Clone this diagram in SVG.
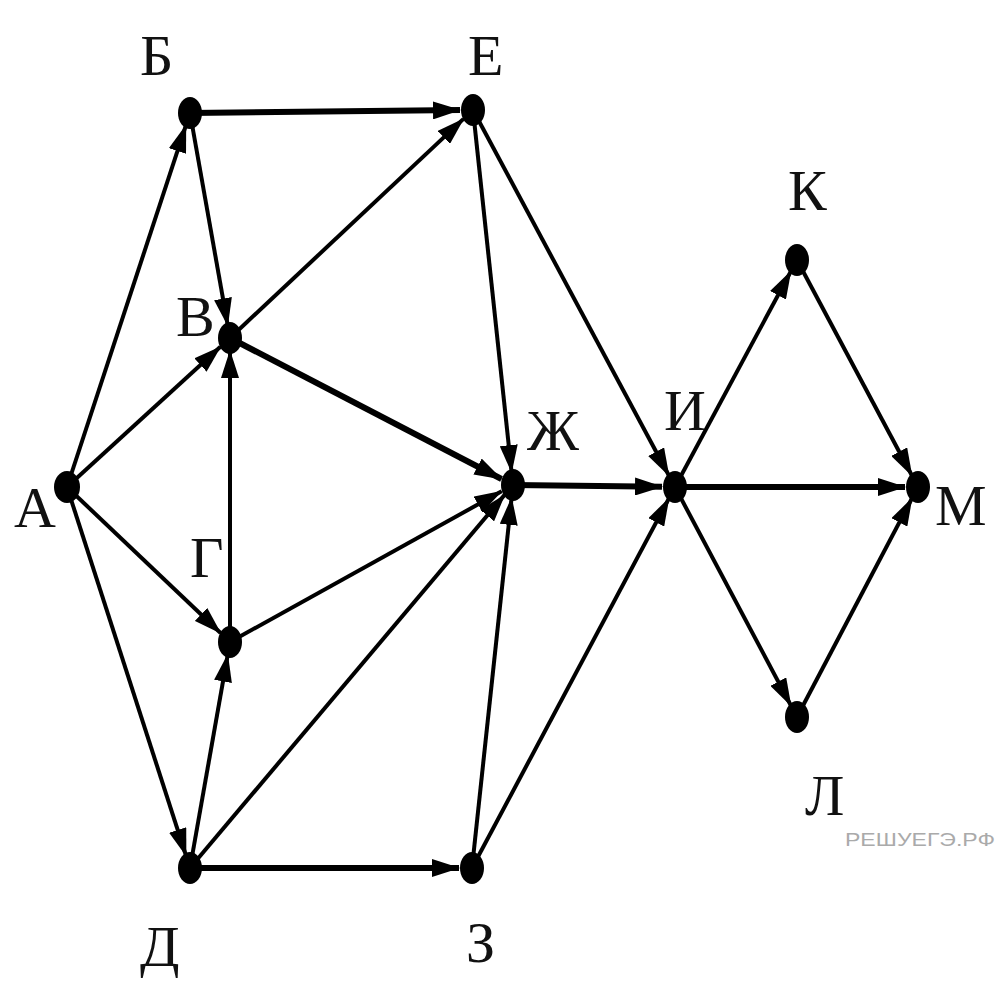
<svg xmlns="http://www.w3.org/2000/svg" width="998" height="985" viewBox="0 0 998 985">
<style>
.e{stroke:#000;stroke-width:4;fill:none;marker-end:url(#ar)}
.t{stroke-width:6}
.n{fill:#000}
.l{font-family:"Liberation Serif","Times New Roman",serif;font-size:58px;fill:#111}
.w{font-family:"Liberation Sans",Arial,sans-serif;font-size:19px;fill:#aaa}
</style>
<defs>
<marker id="ar" markerUnits="userSpaceOnUse" viewBox="0 0 28 18" markerWidth="28" markerHeight="18" refX="27" refY="9" orient="auto">
<path d="M0,0 L28,9 L0,18 z" fill="#000"/>
</marker>
</defs>
<rect width="998" height="985" fill="#fff"/>
<g id="connectors">
<line class="e" x1="67" y1="487" x2="185.9" y2="125.4"/>
<line class="e" x1="190" y1="113" x2="227.7" y2="325.2"/>
<line class="e" x1="67" y1="487" x2="220.4" y2="346.8"/>
<line class="e t" x1="190" y1="113" x2="460" y2="110.1"/>
<line class="e" x1="230" y1="338" x2="463.5" y2="118.9"/>
<line class="e t" x1="230" y1="338" x2="501.5" y2="479"/>
<line class="e" x1="230" y1="642" x2="230" y2="351"/>
<line class="e" x1="67" y1="487" x2="220.6" y2="633"/>
<line class="e" x1="230" y1="642" x2="501.6" y2="491.3"/>
<line class="e" x1="67" y1="487" x2="186" y2="855.6"/>
<line class="e" x1="190" y1="868" x2="227.7" y2="654.8"/>
<line class="e" x1="190" y1="868" x2="504.6" y2="494.9"/>
<line class="e t" x1="190" y1="868" x2="459" y2="868"/>
<line class="e" x1="472" y1="868" x2="511.6" y2="497.9"/>
<line class="e" x1="473" y1="110" x2="511.6" y2="472.1"/>
<line class="e" x1="473" y1="110" x2="668.9" y2="475.5"/>
<line class="e" x1="472" y1="868" x2="668.9" y2="498.5"/>
<line class="e t" x1="513" y1="485" x2="662" y2="486.8"/>
<line class="e" x1="675" y1="487" x2="790.8" y2="271.5"/>
<line class="e t" x1="675" y1="487" x2="905" y2="487"/>
<line class="e" x1="675" y1="487" x2="790.9" y2="705.5"/>
<line class="e" x1="797" y1="260" x2="911.9" y2="475.5"/>
<line class="e" x1="797" y1="717" x2="911.9" y2="498.5"/>
</g>
<g id="A"><ellipse class="n" cx="67" cy="487" rx="13" ry="16"/><text class="l" x="14" y="527">А</text></g>
<g id="B"><ellipse class="n" cx="190" cy="113" rx="12" ry="16"/><text class="l" x="140" y="75">Б</text></g>
<g id="V"><ellipse class="n" cx="230" cy="338" rx="12" ry="16"/><text class="l" x="176" y="336">В</text></g>
<g id="G"><ellipse class="n" cx="230" cy="642" rx="12" ry="16"/><text class="l" x="190" y="577">Г</text></g>
<g id="D"><ellipse class="n" cx="190" cy="868" rx="12" ry="16"/><text class="l" x="140" y="966">Д</text></g>
<g id="E"><ellipse class="n" cx="473" cy="110" rx="12" ry="16"/><text class="l" x="468" y="75">Е</text></g>
<g id="Zh"><ellipse class="n" cx="513" cy="485" rx="12" ry="16"/><text class="l" x="527" y="450">Ж</text></g>
<g id="Z"><ellipse class="n" cx="472" cy="868" rx="12" ry="16"/><text class="l" x="466" y="962">З</text></g>
<g id="I"><ellipse class="n" cx="675" cy="487" rx="12" ry="16"/><text class="l" x="664" y="430">И</text></g>
<g id="K"><ellipse class="n" cx="797" cy="260" rx="12" ry="16"/><text class="l" x="788" y="210">К</text></g>
<g id="L"><ellipse class="n" cx="797" cy="717" rx="12" ry="16"/><text class="l" x="805" y="815">Л</text></g>
<g id="M"><ellipse class="n" cx="918" cy="487" rx="12" ry="16"/><text class="l" x="935" y="525">М</text></g>
<text class="w" x="845" y="846" textLength="150" lengthAdjust="spacingAndGlyphs">РЕШУЕГЭ.РФ</text>
</svg>
